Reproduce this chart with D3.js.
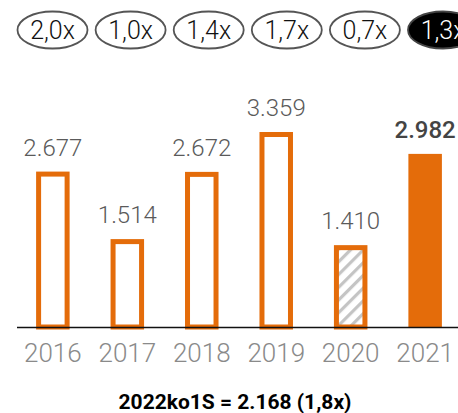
<!DOCTYPE html>
<html>
<head>
<meta charset="utf-8">
<script src="https://cdn.jsdelivr.net/npm/d3@7"></script>
<style>
  body { margin: 0; background: #fff; }
  svg { display: block; font-family: Roboto, "Open Sans", sans-serif; }
</style>
</head>
<body>
<div id="chart"></div>
<script>
const years = ['2016', '2017', '2018', '2019', '2020', '2021'];
const values = [2677, 1514, 2672, 3359, 1410, 2982];
const valueLabels = ['2.677', '1.514', '2.672', '3.359', '1.410', '2.982'];
const multiples = ['2,0x', '1,0x', '1,4x', '1,7x', '0,7x', '1,3x'];
const footnote = '2022ko1S = 2.168 (1,8x)';

const orange = '#e46c0a';
const width = 458, height = 413;
const baseline = 327;

const svg = d3.select('#chart').append('svg')
  .attr('width', width)
  .attr('height', height);

// hatch for 2020
const defs = svg.append('defs');
const pattern = defs.append('pattern')
  .attr('id', 'hatch')
  .attr('patternUnits', 'userSpaceOnUse')
  .attr('width', 9)
  .attr('height', 9)
  .attr('patternTransform', 'rotate(45)');
pattern.append('rect').attr('width', 9).attr('height', 9).attr('fill', '#fff');
pattern.append('rect').attr('width', 3.2).attr('height', 9).attr('fill', '#c4c4c4');

// scales
const x = d3.scaleBand()
  .domain(years)
  .range([16, 462])
  .paddingInner(0.55)
  .paddingOuter(0.27);

const y = d3.scaleLinear()
  .domain([0, 3359])
  .range([baseline, 132]);

// bars
const sw = 5;
svg.append('g')
  .selectAll('rect')
  .data(years)
  .enter().append('rect')
    .attr('x', (d, i) => x(d) + (i === 5 ? 0 : sw / 2))
    .attr('y', (d, i) => y(values[i]) + (i === 5 ? 0 : sw / 2))
    .attr('width', (d, i) => x.bandwidth() - (i === 5 ? 0 : sw))
    .attr('height', (d, i) => baseline - y(values[i]) - (i === 5 ? 0 : sw / 2))
    .attr('fill', (d, i) => i === 5 ? orange : (i === 4 ? 'url(#hatch)' : '#fff'))
    .attr('stroke', (d, i) => i === 5 ? 'none' : orange)
    .attr('stroke-width', sw);

// axis line
svg.append('line')
  .attr('x1', 17).attr('x2', width)
  .attr('y1', baseline + 0.5).attr('y2', baseline + 0.5)
  .attr('stroke', '#111')
  .attr('stroke-width', 1.5);

// value labels
svg.append('g')
  .selectAll('text')
  .data(years)
  .enter().append('text')
    .attr('x', d => x(d) + x.bandwidth() / 2)
    .attr('y', (d, i) => y(values[i]) - 16)
    .attr('text-anchor', 'middle')
    .attr('font-size', 24)
    .attr('font-weight', (d, i) => i === 5 ? 500 : 300)
    .attr('fill', (d, i) => i === 5 ? '#444' : '#5a5a5a')
    .text((d, i) => valueLabels[i]);

// year axis
const xAxis = svg.append('g')
  .attr('transform', `translate(0,${baseline})`)
  .call(d3.axisBottom(x).tickSize(0).tickPadding(17));
xAxis.select('.domain').remove();
xAxis.selectAll('text')
  .attr('font-size', 26)
  .attr('font-weight', 300)
  .attr('fill', '#8a8a8a')
  .attr('font-family', 'Roboto, sans-serif');

// multiple pills
const pillX = d3.scalePoint()
  .domain(multiples)
  .range([52.5, 443]);

const pills = svg.append('g')
  .selectAll('g')
  .data(multiples)
  .enter().append('g')
    .attr('transform', d => `translate(${pillX(d)},30)`);

pills.append('ellipse')
  .attr('rx', 35)
  .attr('ry', 18.5)
  .attr('fill', (d, i) => i === 5 ? '#000' : '#fff')
  .attr('stroke', (d, i) => i === 5 ? '#444' : '#555')
  .attr('stroke-width', 1.8);

pills.append('text')
  .attr('text-anchor', 'middle')
  .attr('dy', 9)
  .attr('font-size', 25)
  .attr('font-weight', 300)
  .attr('fill', (d, i) => i === 5 ? '#fff' : '#111')
  .text(d => d);

// footnote
svg.append('text')
  .attr('x', 235)
  .attr('y', 409)
  .attr('text-anchor', 'middle')
  .attr('font-size', 21)
  .attr('font-weight', 700)
  .attr('fill', '#000')
  .text(footnote);
</script>
</body>
</html>
